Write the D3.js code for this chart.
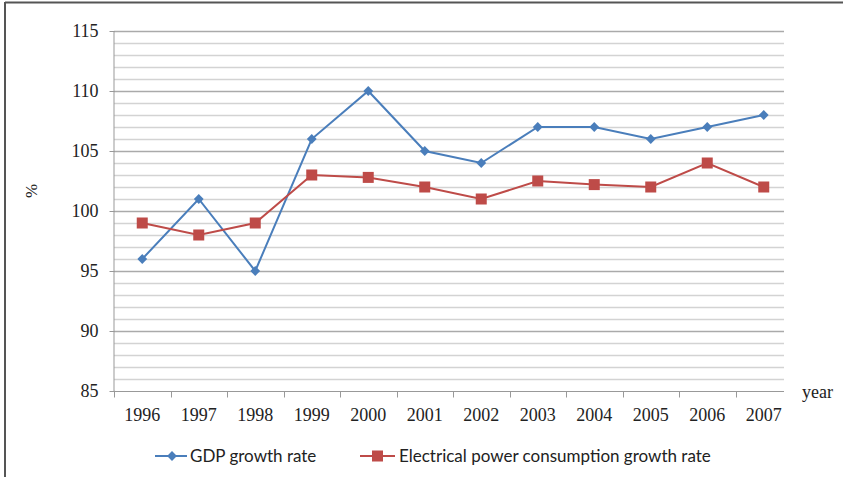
<!DOCTYPE html>
<html>
<head>
<meta charset="utf-8">
<script src="https://cdn.jsdelivr.net/npm/d3@7"></script>
<style>
  html, body { margin: 0; padding: 0; background: #fff; }
  svg { display: block; }
</style>
</head>
<body>
<svg id="chart" width="843" height="477"></svg>
<script>
// Years on the category axis
const years = ["1996", "1997", "1998", "1999", "2000", "2001", "2002", "2003", "2004", "2005", "2006", "2007"];
// Growth rates (%)
const gdpGrowth = [96, 101, 95, 106, 110, 105, 104, 107, 107, 106, 107, 108];
const powerGrowth = [99, 98, 99, 103, 102.8, 102, 101, 102.5, 102.2, 102, 104, 102];
// Value axis ticks
const yTicks = [85, 90, 95, 100, 105, 110, 115];
const seriesNames = ["GDP growth rate", "Electrical power consumption growth rate"];

const svg = d3.select("#chart");
const serif = "'Liberation Serif', 'Times New Roman', serif";
const sans = "Lato, 'Open Sans', 'Liberation Sans', sans-serif";
const blue = "#4a7ebb";
const red = "#be4b48";

const plotLeft = 114, plotRight = 792, plotTop = 31, plotBottom = 391, gridRight = 784;

const x = d3.scaleBand().domain(years).range([plotLeft, plotRight]);
const y = d3.scaleLinear().domain([85, 115]).range([plotBottom, plotTop]);

// Frame lines
svg.append("line").attr("x1", 5).attr("x2", 843).attr("y1", 2.5).attr("y2", 2.5)
  .attr("stroke", "#555").attr("stroke-width", 2);
svg.append("line").attr("x1", 5).attr("x2", 5).attr("y1", 2).attr("y2", 477)
  .attr("stroke", "#555").attr("stroke-width", 2);

// Horizontal gridlines, one per unit
const gridVals = d3.range(86, 116, 1);
svg.append("g").selectAll("line").data(gridVals).join("line")
  .attr("x1", plotLeft).attr("x2", gridRight)
  .attr("y1", d => Math.round(y(d)) + 0.5).attr("y2", d => Math.round(y(d)) + 0.5)
  .attr("stroke", d => d % 5 === 0 ? "#aaaaaa" : "#d3d3d3")
  .attr("stroke-width", 1.4);

// Y axis
const yAxis = d3.axisLeft(y).tickValues(yTicks).tickSize(5).tickPadding(11);
const gy = svg.append("g").attr("transform", `translate(${plotLeft + 0.5},0)`).call(yAxis);
gy.attr("font-family", null).attr("font-size", null);
gy.select(".domain").attr("stroke", "#999").attr("d", `M-0.5,${plotTop}V${plotBottom}H0`);
gy.selectAll(".tick line").attr("stroke", "#999");
gy.selectAll(".tick text").style("font-family", serif).style("font-size", "18px").attr("fill", "#222");

// X axis
const xAxis = d3.axisBottom(x).tickSize(0).tickPadding(17);
const gx = svg.append("g").attr("transform", `translate(0,${plotBottom + 0.5})`).call(xAxis);
gx.attr("font-family", null).attr("font-size", null);
gx.select(".domain").attr("stroke", "#999").attr("d", `M${plotLeft},0H${gridRight}`);
gx.selectAll(".tick text").style("font-family", serif).style("font-size", "18px").attr("fill", "#222");
// Tick marks between categories
const boundaries = years.slice(0, 11).map(d => x(d) + x.bandwidth());
gx.selectAll(".bnd").data([plotLeft].concat(boundaries)).join("line")
  .attr("class", "bnd")
  .attr("x1", d => Math.round(d) + 0.5).attr("x2", d => Math.round(d) + 0.5)
  .attr("y1", 0).attr("y2", 6).attr("stroke", "#999");

// Axis titles
svg.append("text").attr("transform", `translate(37,191) rotate(-90)`)
  .attr("text-anchor", "middle").style("font-family", serif).style("font-size", "17px")
  .attr("fill", "#222").text("%");
svg.append("text").attr("x", 802).attr("y", 398)
  .style("font-family", serif).style("font-size", "18px").attr("fill", "#222").text("year");

const cx = d => x(d) + x.bandwidth() / 2;
const line = vals => d3.line().x((d, i) => cx(years[i])).y(d => y(d))(vals);

// GDP series
svg.append("path").attr("d", line(gdpGrowth)).attr("fill", "none")
  .attr("stroke", blue).attr("stroke-width", 2);
const diamond = d3.symbol().type(d3.symbolSquare).size(48);
svg.append("g").selectAll("path").data(gdpGrowth).join("path")
  .attr("transform", (d, i) => `translate(${cx(years[i])},${y(d)}) rotate(45)`)
  .attr("d", diamond).attr("fill", blue);

// Power consumption series
svg.append("path").attr("d", line(powerGrowth)).attr("fill", "none")
  .attr("stroke", red).attr("stroke-width", 2);
svg.append("g").selectAll("rect").data(powerGrowth).join("rect")
  .attr("x", (d, i) => cx(years[i]) - 5.5).attr("y", d => y(d) - 5.5)
  .attr("width", 11).attr("height", 11).attr("fill", red);

// Legend
const legY = 456;
const lg = svg.append("g");
lg.append("line").attr("x1", 155).attr("x2", 187).attr("y1", legY).attr("y2", legY)
  .attr("stroke", blue).attr("stroke-width", 2);
lg.append("path").attr("transform", `translate(172,${legY}) rotate(45)`).attr("d", diamond).attr("fill", blue);
lg.append("text").attr("x", 190).attr("y", legY + 6).style("font-family", sans)
  .style("font-size", "17px").attr("fill", "#222").text(seriesNames[0]);
lg.append("line").attr("x1", 360).attr("x2", 395).attr("y1", legY).attr("y2", legY)
  .attr("stroke", red).attr("stroke-width", 2);
lg.append("rect").attr("x", 372).attr("y", legY - 5.5).attr("width", 11).attr("height", 11).attr("fill", red);
lg.append("text").attr("x", 399).attr("y", legY + 6).style("font-family", sans)
  .style("font-size", "17px").attr("fill", "#222").text(seriesNames[1]);
</script>
</body>
</html>
